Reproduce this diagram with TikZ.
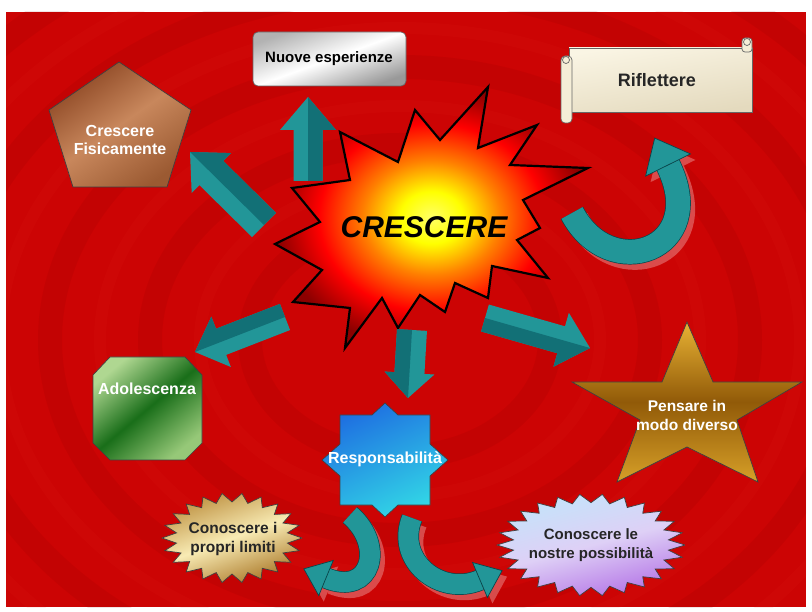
\documentclass[tikz,border=0pt]{standalone}
\usepackage{fontspec}
\setmainfont{Liberation Sans}
\usetikzlibrary{calc}

\definecolor{bgred}{RGB}{204,4,4}
\definecolor{bgdark}{RGB}{120,0,0}
\definecolor{bglight}{RGB}{235,50,40}
\definecolor{teala}{RGB}{34,150,152}
\definecolor{tealb}{RGB}{18,112,118}
\definecolor{tealc}{RGB}{8,70,75}
\definecolor{shadowpink}{RGB}{232,135,135}

\pgfdeclareradialshading{burst}{\pgfpoint{0bp}{0bp}}{color(0bp)=(yellow!60!white); color(5bp)=(yellow); color(11bp)=(orange); color(18bp)=(red); color(25bp)=(red!55!black); color(50bp)=(red!55!black)}

\tikzset{
  lbl/.style={font=\fontsize{16}{18}\selectfont\bfseries, align=center, inner sep=0pt},
  shapeline/.style={draw=black!75, line width=0.7pt},
}

% block arrow: #1 start, #2 end, #3 half shaft, #4 half head, #5 head length, #6 neck name
\newcommand\blockarrow[6]{%
  \coordinate (#6) at ($(#2)!#5!(#1)$);
  \fill[teala] ($(#1)!#3!90:(#2)$) -- ($(#6)!#3!90:(#2)$) -- ($(#6)!#4!90:(#2)$) -- (#2)
     -- ($(#6)!#4!-90:(#2)$) -- ($(#6)!#3!-90:(#2)$) -- ($(#1)!#3!-90:(#2)$) -- cycle;
  \fill[tealb] (#1) -- (#6) -- (#2) -- ($(#6)!#4!-90:(#2)$) -- ($(#6)!#3!-90:(#2)$) -- ($(#1)!#3!-90:(#2)$) -- cycle;
}
% curved arrow: #1 start, #2 c1, #3 c2, #4 end, #5 tip, #6 band width, #7 half head
\newcommand\curvedarrow[7]{%
  \begin{scope}[transform canvas={shift={(5pt,-6pt)}}, opacity=0.55]
    \draw[shadowpink, line width=#6] (#1) .. controls (#2) and (#3) .. (#4);
    \fill[shadowpink] ($(#4)!#7!90:(#5)$) -- (#5) -- ($(#4)!#7!-90:(#5)$) -- cycle;
  \end{scope}
  \draw[tealc, line width=#6+1.4pt] (#1) .. controls (#2) and (#3) .. (#4);
  \draw[teala, line width=#6] (#1) .. controls (#2) and (#3) .. (#4);
  \filldraw[fill=teala, draw=tealc, line width=0.7pt, line join=miter] ($(#4)!#7!90:(#5)$) -- (#5) -- ($(#4)!#7!-90:(#5)$) -- cycle;
}

\begin{document}
\begin{tikzpicture}[x=1pt,y=-1pt]
\useasboundingbox (0,0) rectangle (812,612);
\fill[white] (0,0) rectangle (812,612);

% background with swirl
\fill[bgred] (6,12) rectangle (806,607);
\begin{scope}
  \clip (6,12) rectangle (806,607);
  \foreach \r in {150,250,350,450,550}
    \draw[bgdark, line width=24pt, opacity=0.10] (400,340) ellipse [x radius=\r, y radius=0.78*\r];
  \foreach \r in {200,300,400,500}
    \draw[bglight, line width=12pt, opacity=0.08] (400,340) ellipse [x radius=\r, y radius=0.78*\r];
\end{scope}

% central starburst
\shadedraw[shading=burst, draw=black, line width=2.2pt, line join=miter]
  (488,87) -- (478,148) -- (537,125) -- (510,165) -- (588,168) -- (523,200)
  -- (540,228) -- (517,240) -- (548,278) -- (492,266) -- (488,298) -- (455,283)
  -- (445,312) -- (420,295) -- (398,328) -- (382,298) -- (345,348) -- (350,308)
  -- (293,302) -- (322,270) -- (275,244) -- (320,222) -- (292,188) -- (350,180)
  -- (340,132) -- (398,162) -- (415,110) -- (440,140) -- cycle;
\node[font=\fontsize{30}{36}\selectfont\bfseries\itshape, text=black] (crescere) at (424,227) {CRESCERE};

% Nuove esperienze
\shadedraw[shapeline, draw=black!60, rounded corners=5pt, top color=black!30, bottom color=black!40, middle color=white, shading angle=20]
  (253,32) rectangle (406,86);
\node[lbl, font=\fontsize{15}{18}\selectfont\bfseries, text=black] (nuove) at (329,59) {Nuove esperienze};

% Riflettere scroll
\shadedraw[shapeline, draw=black!60, top color={rgb,255:red,250;green,245;blue,228}, bottom color={rgb,255:red,228;green,218;blue,190}, shading angle=10]
  (569,48) rectangle (752,112);
\filldraw[shapeline, draw=black!60, fill={rgb,255:red,245;green,238;blue,215}, rounded corners=4pt]
  (561,56) rectangle (572,123);
\filldraw[shapeline, draw=black!60, fill={rgb,255:red,245;green,238;blue,215}] (566,60) circle [radius=3.5];
\filldraw[shapeline, draw=black!60, fill={rgb,255:red,245;green,238;blue,215}, rounded corners=3pt]
  (742,38) rectangle (752,52);
\filldraw[shapeline, draw=black!60, fill={rgb,255:red,245;green,238;blue,215}] (747,42) circle [radius=3.5];
\node[lbl, font=\fontsize{18}{20}\selectfont\bfseries, text=black!85] (riflettere) at (657,80) {Riflettere};

% Crescere Fisicamente pentagon
\shadedraw[shapeline, top color={rgb,255:red,140;green,70;blue,35}, bottom color={rgb,255:red,155;green,90;blue,50}, middle color={rgb,255:red,200;green,135;blue,92}, shading angle=35]
  (119,62) -- (191,110) -- (167,187) -- (73,187) -- (49,110) -- cycle;
\node[lbl, text=white] (fisic) at (120,140) {Crescere\\Fisicamente};

% Adolescenza octagon
\shadedraw[shapeline, top color={rgb,255:red,175;green,215;blue,145}, bottom color={rgb,255:red,150;green,200;blue,120}, middle color={rgb,255:red,25;green,110;blue,25}, shading angle=40]
  (110,357) -- (185,357) -- (202,375) -- (202,443) -- (185,460) -- (110,460) -- (93,443) -- (93,375) -- cycle;
\node[lbl, text=white] (adol) at (147,389) {Adolescenza};

% Responsabilita 8-point star
\shadedraw[shapeline, top color={rgb,255:red,30;green,110;blue,225}, bottom color={rgb,255:red,50;green,215;blue,230}, shading angle=25]
  (385,403) -- (398,415) -- (430,415) -- (430,444) -- (448,460) -- (430,476) -- (430,505) -- (398,505)
  -- (385,517) -- (372,505) -- (340,505) -- (340,476) -- (322,460) -- (340,444) -- (340,415) -- (372,415) -- cycle;
\node[lbl, text=white] (resp) at (385,459) {Responsabilità};

% Pensare in modo diverso star
\shadedraw[shapeline, top color={rgb,255:red,232;green,178;blue,52}, bottom color={rgb,255:red,215;green,160;blue,40}, middle color={rgb,255:red,145;green,90;blue,8}]
  (687,322) -- (713,382) -- (802,382) -- (737,420) -- (758,482) -- (687,447) -- (617,482) -- (640,420) -- (572,382) -- (662,382) -- cycle;
\node[lbl, font=\fontsize{15.5}{19}\selectfont\bfseries, text=white] (pensare) at (687,415) {Pensare in\\modo diverso};

% Conoscere i propri limiti seal
\shadedraw[shapeline, top color={rgb,255:red,190;green,145;blue,65}, bottom color={rgb,255:red,170;green,120;blue,40}, middle color={rgb,255:red,248;green,235;blue,180}, shading angle=20]
  plot[samples=45, domain=0:44, variable=\k]
  ({232+70*(1-0.2*mod(round(\k),2))*cos(\k*8.1818)}, {538+45*(1-0.2*mod(round(\k),2))*sin(\k*8.1818)}) -- cycle;
\node[lbl, font=\fontsize{15.5}{19}\selectfont\bfseries, text=black!85] (limiti) at (233,539) {Conoscere i\\propri limiti};

% Conoscere le nostre possibilita seal
\shadedraw[shapeline, top color={rgb,255:red,195;green,228;blue,250}, bottom color={rgb,255:red,180;green,115;blue,230}, middle color={rgb,255:red,222;green,208;blue,246}, shading angle=15]
  plot[samples=53, domain=0:52, variable=\k]
  ({591+94*(1-0.17*mod(round(\k),2))*cos(\k*6.9231)}, {545+51*(1-0.17*mod(round(\k),2))*sin(\k*6.9231)}) -- cycle;
\node[lbl, font=\fontsize{15}{19}\selectfont\bfseries, text=black!85] (possib) at (591,545) {Conoscere le\\nostre possibilità};

% straight block arrows out of CRESCERE
\coordinate (a1s) at (308,181); \coordinate (a1e) at (308,97);
\blockarrow{a1s}{a1e}{14.5pt}{28pt}{33pt}{a1n}
\coordinate (a2s) at (264,225); \coordinate (a2e) at (190,152);
\blockarrow{a2s}{a2e}{17pt}{28pt}{30pt}{a2n}
\coordinate (a3s) at (285,317); \coordinate (a3e) at (195,352);
\blockarrow{a3s}{a3e}{14pt}{27pt}{28pt}{a3n}
\coordinate (a4s) at (412,330); \coordinate (a4e) at (408,398);
\blockarrow{a4s}{a4e}{15pt}{25pt}{25pt}{a4n}
\coordinate (a5s) at (485,318); \coordinate (a5e) at (590,348);
\blockarrow{a5s}{a5e}{14pt}{28pt}{30pt}{a5n}

% curved arrow towards Riflettere
\coordinate (c1s) at (572,213); \coordinate (c1a) at (610,285);
\coordinate (c1b) at (710,250); \coordinate (c1e) at (668,165);
\coordinate (c1t) at ($(c1e)!-30pt!(c1b)$);
\curvedarrow{c1s}{c1a}{c1b}{c1e}{c1t}{24pt}{25pt}

% curved arrows below Responsabilita
\coordinate (c2s) at (350,515); \coordinate (c2a) at (385,545);
\coordinate (c2b) at (372,597); \coordinate (c2e) at (326,578);
\coordinate (c2t) at ($(c2e)!-24pt!(c2b)$);
\curvedarrow{c2s}{c2a}{c2b}{c2e}{c2t}{20pt}{19pt}

\coordinate (c3s) at (412,518); \coordinate (c3a) at (395,560);
\coordinate (c3b) at (440,597); \coordinate (c3e) at (480,580);
\coordinate (c3t) at ($(c3e)!-24pt!(c3b)$);
\curvedarrow{c3s}{c3a}{c3b}{c3e}{c3t}{20pt}{19pt}
\end{tikzpicture}
\end{document}
